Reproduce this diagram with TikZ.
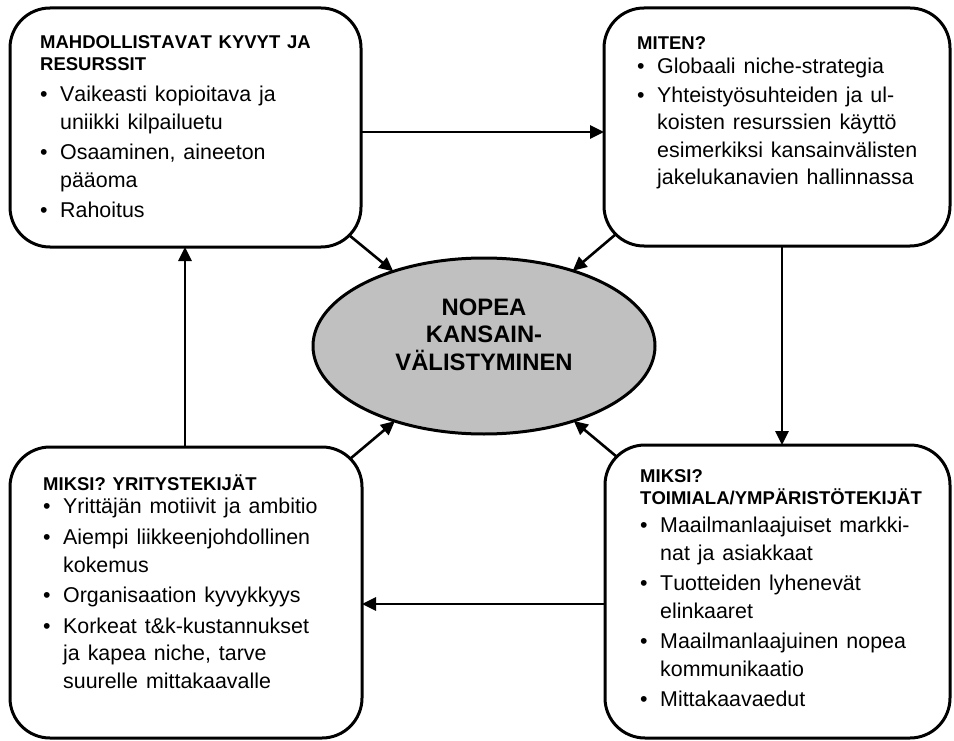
\documentclass[tikz,border=0pt]{standalone}
\usepackage{fontspec}
\setmainfont{Liberation Sans}[Kerning=Off]
\usetikzlibrary{arrows.meta,shapes.geometric}

% bold heading lines of a box
\newcommand{\hd}[1]{\noindent\fontsize{18.5}{22.5}\selectfont\bfseries\spaceskip=.37em
  \rule{0pt}{18pt}#1\par}
% bullet item; optional argument = extra space above
\newcommand{\bul}[2][3pt]{\vspace{#1}\noindent\fontsize{21.4}{27.5}\selectfont\mdseries
  \spaceskip=.37em\hangindent=20pt\hangafter=1\makebox[20pt][l]{\textbullet}#2\par}

\definecolor{ellgrey}{RGB}{192,192,192}

\tikzset{
  box/.style={draw, line width=3pt, rounded corners=40pt, inner sep=0pt, outer sep=0pt},
  txt/.style={anchor=north west, inner sep=0pt, text width=320pt},
  arr/.style={line width=2.6pt, -{Triangle[length=14pt,width=13pt]}},
}

\begin{document}
\begin{tikzpicture}[x=1pt,y=-1pt]
\useasboundingbox (0,0) rectangle (954,741);

% four corner boxes
\node[box, minimum width=351pt, minimum height=239pt] (tl) at (185.5,127.5) {};
\node[box, minimum width=346pt, minimum height=238pt] (tr) at (777,127) {};
\node[box, minimum width=352pt, minimum height=291pt] (bl) at (186,592.5) {};
\node[box, minimum width=345pt, minimum height=293pt] (br) at (777.5,591.5) {};

% central ellipse
\node[draw, line width=3pt, fill=ellgrey, ellipse, inner sep=0pt, outer sep=0pt,
      minimum width=342pt, minimum height=176pt] (ell) at (484,346) {};
\node[anchor=north, inner sep=0pt, align=center,
      font=\fontsize{23.8}{27.5}\selectfont\bfseries] (elltxt) at (484,297)
  {\rule{0pt}{18pt}NOPEA\\KANSAIN-\\VÄLISTYMINEN};

% box texts
\node[txt] (tltxt) at (40,30) {%
  \hd{MAHDOLLISTAVAT KYVYT JA\newline RESURSSIT}
  \bul[3.5pt]{Vaikeasti kopioitava ja\newline uniikki kilpailuetu}
  \bul{Osaaminen, aineeton\newline pääoma}
  \bul{Rahoitus}};

\node[txt] (trtxt) at (637,31.5) {%
  \hd{MITEN?}
  \bul[-3.5pt]{Globaali niche-strategia}
  \bul[1pt]{Yhteistyösuhteiden ja ul-\newline koisten resurssien käyttö\newline
    esimerkiksi kansainvälisten\newline jakelukanavien hallinnassa}};

\node[txt] (bltxt) at (43,472) {%
  \hd{MIKSI? YRITYSTEKIJÄT}
  \bul[-4.5pt]{Yrittäjän motiivit ja ambitio}
  \bul[4pt]{Aiempi liikkeenjohdollinen\newline kokemus}
  \bul{Organisaation kyvykkyys}
  \bul{Korkeat t\&k-kustannukset\newline ja kapea niche, tarve\newline suurelle mittakaavalle}};

\node[txt] (brtxt) at (640,464) {%
  \hd{MIKSI?\newline TOIMIALA/YMPÄRISTÖTEKIJÄT}
  \bul[0.5pt]{Maailmanlaajuiset markki-\newline nat ja asiakkaat}
  \bul{Tuotteiden lyhenevät\newline elinkaaret}
  \bul{Maailmanlaajuinen nopea\newline kommunikaatio}
  \bul{Mittakaavaedut}};

% cycle between the boxes
\draw[arr] ([yshift=-4.5pt]tl.east) -- ([yshift=-4.5pt]tl.east -| tr.west);
\draw[arr] ([xshift=5pt]tr.south) -- ([xshift=5pt]tr.south |- br.north);
\draw[arr] ([yshift=-12.5pt]br.west) -- ([yshift=-12.5pt]br.west -| bl.east);
\draw[arr] ([xshift=-1pt]bl.north) -- ([xshift=-1pt]bl.north |- tl.south);

% arrows into the ellipse from the rounded corners
\draw[arr] ([xshift=-11.7pt,yshift=11.7pt]tl.south east) -- (ell);
\draw[arr] ([xshift=11.7pt,yshift=11.7pt]tr.south west) -- (ell);
\draw[arr] ([xshift=-11.7pt,yshift=-11.7pt]bl.north east) -- (ell);
\draw[arr] ([xshift=11.7pt,yshift=-11.7pt]br.north west) -- (ell);
\end{tikzpicture}
\end{document}
